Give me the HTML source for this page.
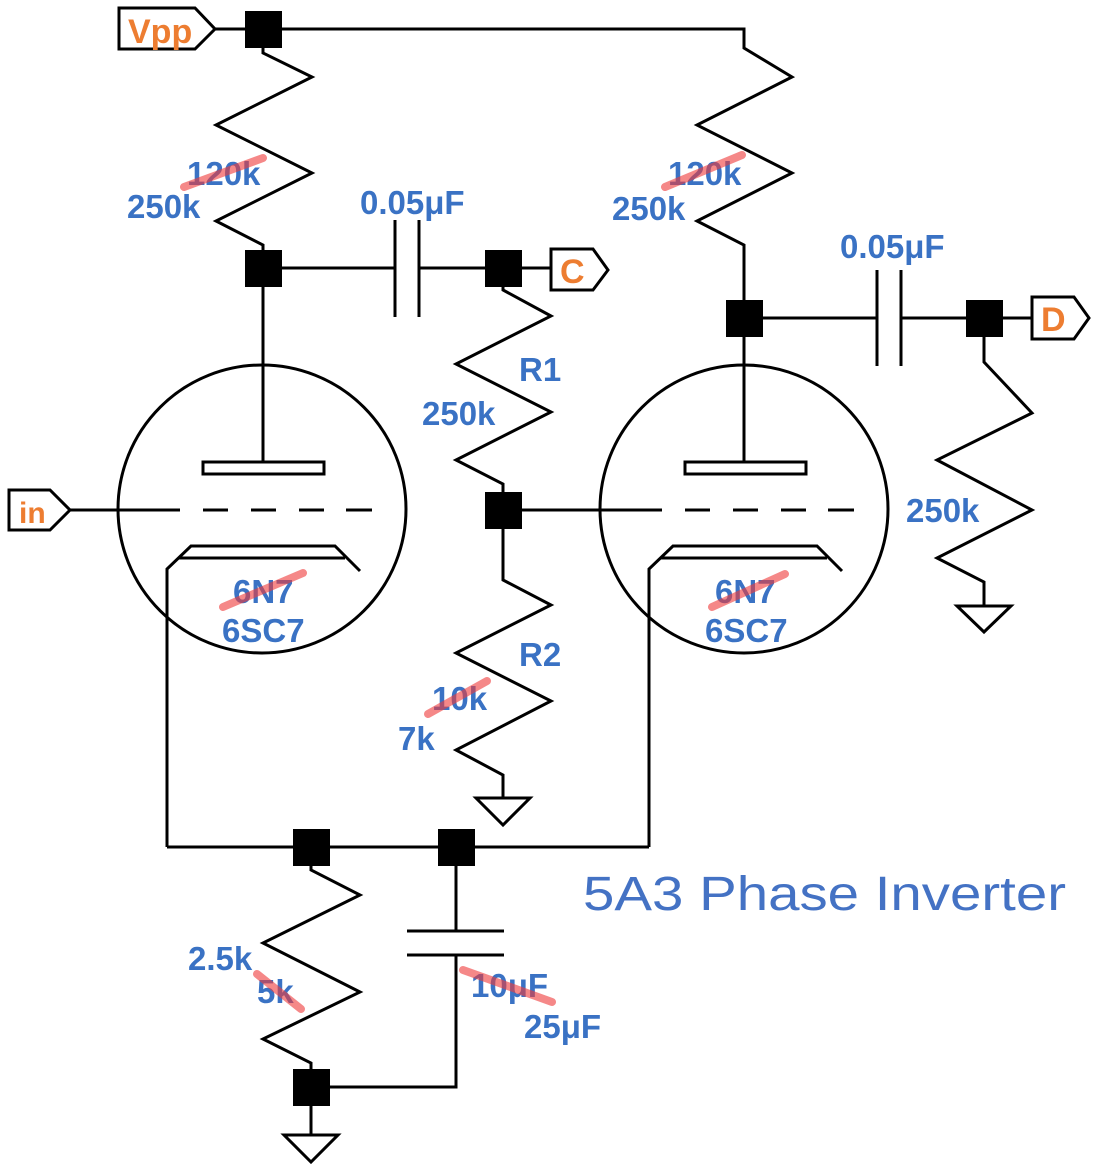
<!DOCTYPE html>
<html><head><meta charset="utf-8"><style>
html,body{margin:0;padding:0;background:#fff;}
svg{display:block;}
.b{font-family:"Liberation Sans",Arial,sans-serif;font-weight:bold;font-size:33px;fill:#3a72c4;}
.o{font-family:"Liberation Sans",Arial,sans-serif;font-weight:bold;font-size:34px;fill:#ed7d31;}
.s{stroke:#f03a3a;stroke-width:8;stroke-linecap:round;opacity:0.6;}
</style></head><body>
<svg width="1098" height="1171" viewBox="0 0 1098 1171" xmlns="http://www.w3.org/2000/svg">
<g fill="none" stroke="#000" stroke-width="3">
<path d="M119,8 H195 L215,29 L195,49 H119 Z"/>
<path d="M551,249 H593 L608,270 L593,290 H551 Z"/>
<path d="M1032,297 H1074 L1089,318 L1074,339 H1032 Z"/>
<path d="M9,490 H50 L70,510 L50,530 H9 Z"/>
<path d="M215,29 H744 V48 L792,77 L697,125 L792,173 L697,221 L744,245 V318"/>
<path d="M263,29 V53 L312,77 L216,125 L312,173 L216,221 L263,245 V462"/>
<path d="M263,268 H395 M395,220 V317 M419,220 V317 M419,268 H551"/>
<path d="M503,268 V290 L551,316 L456,364 L551,412 L456,460 L503,484 V580 L551,605 L456,653 L551,701 L456,750 L503,775 V798"/>
<path d="M476,798 H530 L503,825 Z"/>
<path d="M744,318 H877 M877,270 V366 M901,270 V366 M901,318 H1032"/>
<path d="M984,318 V362 L1032,413 L937,460 L1032,510 L937,558 L984,582 V606"/>
<path d="M957,606 H1011 L984,632 Z"/>
<ellipse cx="262" cy="509" rx="144" ry="144"/>
<ellipse cx="744" cy="509" rx="144" ry="144"/>
<rect x="203" y="462" width="121" height="12"/>
<rect x="685" y="462" width="121" height="12"/>
<path d="M744,318 V462"/>
<path d="M70,510 H180 M203,510 H228 M251,510 H276 M299,510 H324 M346,510 H372"/>
<path d="M503,510 H662 M685,510 H710 M733,510 H758 M781,510 H806 M828,510 H854"/>
<path d="M167,847 V569 L191,546 H335 L360,571 M179,558 H345"/>
<path d="M649,847 V569 L673,546 H817 L842,571 M661,558 H827"/>
<path d="M167,847 H649"/>
<path d="M311,847 V870 L360,895 L263,943 L360,992 L263,1039 L311,1063 V1135"/>
<path d="M284,1135 H338 L311,1162 Z"/>
<path d="M456,847 V931 M407,931 H504 M407,955 H504 M456,955 V1087 H311"/>
</g>
<g fill="#000">
<rect x="245" y="11" width="37" height="37"/>
<rect x="245" y="250" width="37" height="37"/>
<rect x="485" y="250" width="37" height="37"/>
<rect x="485" y="492" width="37" height="37"/>
<rect x="726" y="300" width="37" height="37"/>
<rect x="966" y="300" width="37" height="37"/>
<rect x="293" y="829" width="37" height="37"/>
<rect x="438" y="829" width="37" height="37"/>
<rect x="293" y="1069" width="37" height="37"/>
</g>
<text class="o" x="128" y="43">Vpp</text>
<text class="o" x="560" y="283">C</text>
<text class="o" x="1041" y="331">D</text>
<text class="o" x="19" y="523" style="font-size:30px">in</text>
<text class="b" x="187" y="185">120k</text>
<text class="b" x="127" y="218">250k</text>
<text class="b" x="360" y="214">0.05μF</text>
<text class="b" x="668" y="185">120k</text>
<text class="b" x="612" y="220">250k</text>
<text class="b" x="840" y="258">0.05μF</text>
<text class="b" x="519" y="381">R1</text>
<text class="b" x="422" y="425">250k</text>
<text class="b" x="906" y="522">250k</text>
<text class="b" x="233" y="603">6N7</text>
<text class="b" x="222" y="642">6SC7</text>
<text class="b" x="715" y="603">6N7</text>
<text class="b" x="705" y="642">6SC7</text>
<text class="b" x="519" y="666">R2</text>
<text class="b" x="432" y="710">10k</text>
<text class="b" x="398" y="750">7k</text>
<text class="b" x="188" y="970">2.5k</text>
<text class="b" x="257" y="1003">5k</text>
<text class="b" x="471" y="997">10μF</text>
<text class="b" x="524" y="1038">25μF</text>
<text x="583" y="910" textLength="483" lengthAdjust="spacingAndGlyphs" style="font-family:'Liberation Sans',Arial,sans-serif;font-size:48px;fill:#4472c4;">5A3 Phase Inverter</text>
<g class="s">
<line x1="184" y1="187" x2="263" y2="158"/>
<line x1="665" y1="187" x2="742" y2="155"/>
<line x1="223" y1="607" x2="303" y2="573"/>
<line x1="712" y1="607" x2="785" y2="574"/>
<line x1="428" y1="714" x2="487" y2="681"/>
<line x1="257" y1="974" x2="301" y2="1009"/>
<line x1="463" y1="970" x2="552" y2="1002"/>
</g>
</svg>
</body></html>
